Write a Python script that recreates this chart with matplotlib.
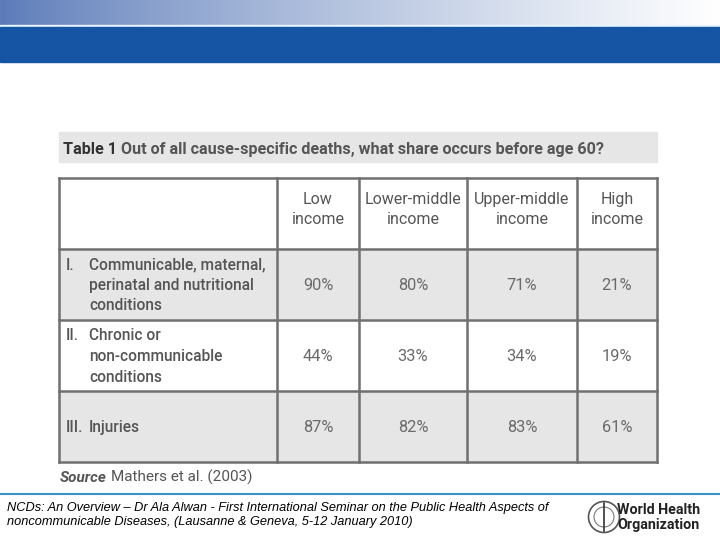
import numpy as np
import matplotlib
matplotlib.use("Agg")
import matplotlib.pyplot as plt
from matplotlib.patches import Rectangle, Circle

# ---- data ----
columns = ["Low\nincome", "Lower-middle\nincome", "Upper-middle\nincome", "High\nincome"]
numerals = ["I.", "II.", "III."]
categories = ["Communicable, maternal,\nperinatal and nutritional\nconditions",
              "Chronic or\nnon-communicable\nconditions",
              "Injuries"]
low_income = [90, 44, 87]
lower_middle = [80, 33, 82]
upper_middle = [71, 34, 83]
high_income = [21, 19, 61]
title_bold = "Table 1"
title_rest = "Out of all cause-specific deaths, what share occurs before age 60?"
source_text = "Mathers et al. (2003)"
footer = ("NCDs: An Overview – Dr Ala Alwan - First International Seminar on the Public Health Aspects of\n"
          "noncommunicable Diseases, (Lausanne & Geneva, 5-12 January 2010)")

FONT = ["Roboto", "DejaVu Sans"]
LSP = 20.5   # px between text lines in table
BOFF = 5.5   # px from visual line centre to baseline

fig = plt.figure(figsize=(7.2, 5.4), dpi=100)
ax = fig.add_axes([0, 0, 1, 1])
ax.set_xlim(0, 720)
ax.set_ylim(540, 0)
ax.axis("off")

# top gradient band
grad = np.linspace(0, 1, 256)[None, :]
c0 = np.array([0x5a, 0x7a, 0xb8]) / 255
c1 = np.array([1.0, 1.0, 1.0])
g = grad[..., None] ** 0.8
img = c0[None, None, :] * (1 - g) + c1[None, None, :] * g
ax.imshow(img, extent=(0, 720, 25, 0), aspect="auto", zorder=0)
ax.add_patch(Rectangle((0, 25), 720, 2, color="#e8f6fb", zorder=1))
ax.add_patch(Rectangle((0, 27), 720, 35, color="#1555a3", zorder=1))

# title band
ax.add_patch(Rectangle((59, 132), 598, 30, color="#e6e6e6", zorder=1))
t = ax.text(63, 148 + 6, title_bold, fontsize=11.6, fontweight="bold", color="#333333",
            va="baseline", ha="left", family=FONT, zorder=3)
fig.canvas.draw()
bb = t.get_window_extent()
ax.text(bb.x1 + 4, 148 + 6, title_rest, fontsize=11.6, fontweight="bold", color="#555555",
        va="baseline", ha="left", family=FONT, zorder=3)

# table geometry
col_edges = [59, 277, 359, 467, 577, 657]
row_edges = [178, 249, 320, 391, 462]
row_fill = ["white", "#e6e6e6", "white", "#e6e6e6"]
for i in range(4):
    ax.add_patch(Rectangle((col_edges[0], row_edges[i]), col_edges[-1] - col_edges[0],
                           row_edges[i + 1] - row_edges[i], color=row_fill[i], zorder=1))
lc = "#707070"
for x in col_edges:
    ax.plot([x, x], [row_edges[0], row_edges[-1]], color=lc, lw=1.8, zorder=2)
for y in row_edges:
    ax.plot([col_edges[0], col_edges[-1]], [y, y], color=lc, lw=1.8, zorder=2)


def lines_at(x, yc, text, **kw):
    parts = text.split("\n")
    n = len(parts)
    for k, p in enumerate(parts):
        ax.text(x, yc + (k - (n - 1) / 2) * LSP + BOFF, p, va="baseline", family=FONT,
                zorder=3, **kw)
    return yc - (n - 1) / 2 * LSP


# header
for j, col in enumerate(columns):
    xc = (col_edges[j + 1] + col_edges[j + 2]) / 2
    lines_at(xc, 208.5, col, ha="center", fontsize=11.5, color="#555555")

# rows
values = [low_income, lower_middle, upper_middle, high_income]
for i, cat in enumerate(categories):
    yc = (row_edges[i + 1] + row_edges[i + 2]) / 2
    ytop = lines_at(89, yc, cat, ha="left", fontsize=11.2, color="#555555", fontweight="medium")
    ax.text(66, ytop + BOFF, numerals[i], ha="left", va="baseline", fontsize=11.2,
            color="#555555", fontweight="medium", family=FONT, zorder=3)
    for j in range(4):
        xc = (col_edges[j + 1] + col_edges[j + 2]) / 2
        ax.text(xc, yc + BOFF, f"{values[j][i]}%", ha="center", va="baseline", fontsize=11.8,
                color="#6a6a6a", family=FONT, zorder=3)

# source
s = ax.text(60, 482, "Source", fontsize=11, fontweight="bold", style="italic",
            color="#555555", family=FONT, va="baseline", ha="left")
fig.canvas.draw()
bb = s.get_window_extent()
ax.text(bb.x1 + 4, 482, source_text, fontsize=11, color="#555555", family=FONT,
        va="baseline", ha="left")

# footer
ax.plot([0, 720], [494, 494], color="#3a8fc4", lw=1.5)
ax.text(7, 515, footer, fontsize=9.2, style="italic", color="black", va="center", ha="left",
        family=["Liberation Sans", "DejaVu Sans"], linespacing=1.2)

# WHO emblem (simplified) and name
ax.add_patch(Circle((604, 517), 15.5, facecolor="white", edgecolor="#555555", lw=1.2, zorder=3))
ax.add_patch(Circle((604, 517), 10, facecolor="white", edgecolor="#777777", lw=0.8, zorder=3))
ax.plot([604, 604], [503, 531], color="#333333", lw=1.2, zorder=4)
ax.text(617, 517.5, "World Health\nOrganization", fontsize=10.3, fontweight="bold", color="#222222",
        va="center", ha="left", family=FONT, linespacing=1.0)

fig.savefig("out.png", dpi=100)
